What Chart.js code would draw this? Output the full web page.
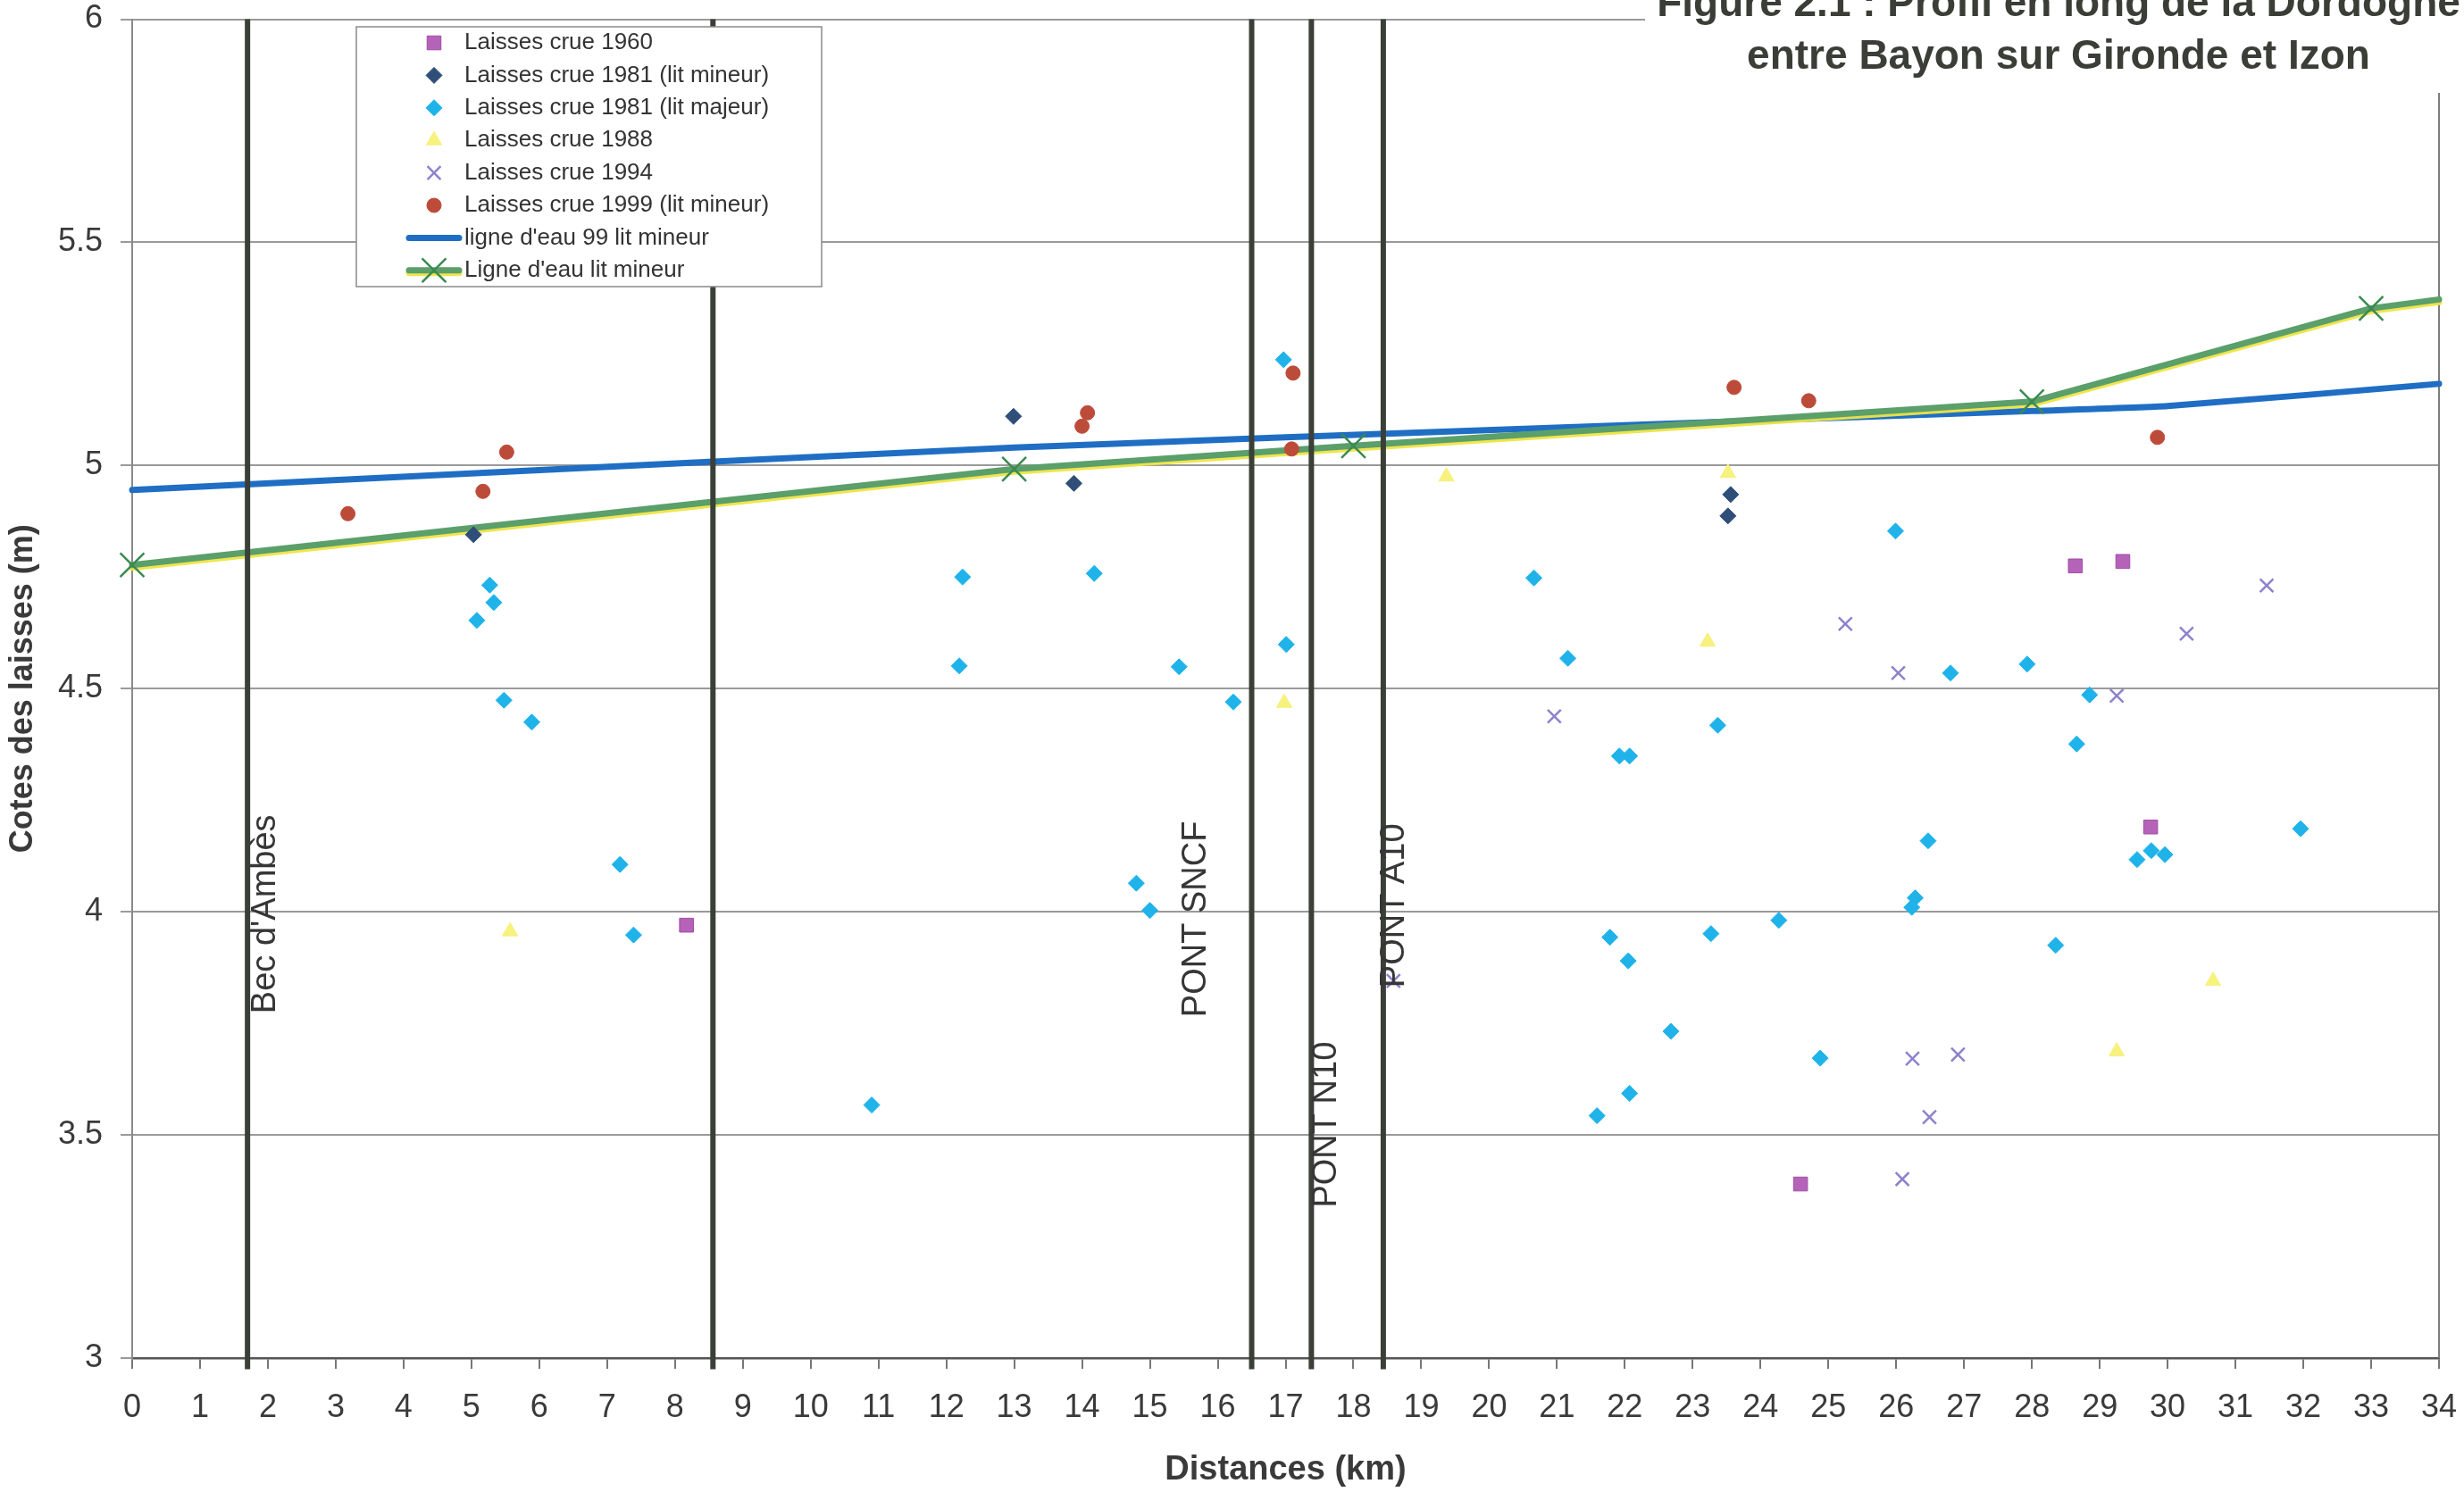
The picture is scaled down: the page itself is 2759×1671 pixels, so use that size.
<!DOCTYPE html>
<html>
<head>
<meta charset="utf-8">
<script src="https://cdn.jsdelivr.net/npm/chart.js@4.4.1/dist/chart.umd.min.js"></script>
<style>
html,body{margin:0;padding:0;background:#ffffff;overflow:hidden}
canvas{display:block}
</style>
</head>
<body>
<canvas id="c" width="2759" height="1671" style="width:2759px;height:1671px"></canvas>
<script>
// ---------------- DATA ----------------
const xTicksMin = 0, xTicksMax = 34;
const yTicksMin = 3, yTicksMax = 6, yStep = 0.5;

const km1960 = [8.17, 24.59, 28.64, 29.34, 29.75];
const z1960  = [3.97, 3.39, 4.775, 4.785, 4.19];

const km1981min = [5.03, 12.99, 13.88, 23.56, 23.52];
const z1981min  = [4.845, 5.11, 4.96, 4.935, 4.887];

const km1981maj = [5.08, 5.27, 5.33, 5.48, 5.89, 7.19, 7.39, 10.9, 12.19, 12.24, 14.18, 14.8, 15.0, 15.43, 16.23, 16.97, 17.01, 20.66, 21.16, 21.59, 21.78, 21.92, 22.05, 22.07, 22.07, 22.68, 23.27, 23.37, 24.27, 24.88, 25.99, 26.23, 26.28, 26.47, 26.8, 27.93, 28.35, 28.66, 28.85, 29.55, 29.76, 29.96, 31.96];
const z1981maj  = [4.653, 4.732, 4.693, 4.474, 4.425, 4.106, 3.948, 3.567, 4.551, 4.75, 4.758, 4.064, 4.003, 4.549, 4.47, 5.237, 4.599, 4.748, 4.568, 3.543, 3.943, 4.349, 3.89, 4.349, 3.593, 3.732, 3.951, 4.418, 3.981, 3.672, 4.853, 4.01, 4.031, 4.159, 4.535, 4.555, 3.925, 4.376, 4.486, 4.117, 4.137, 4.128, 4.186];

const km1988 = [5.57, 16.98, 19.37, 23.22, 23.52, 29.25, 30.67];
const z1988  = [3.956, 4.468, 4.975, 4.605, 4.983, 3.687, 3.845];

const km1994 = [18.59, 20.96, 25.25, 26.03, 26.09, 26.24, 26.49, 26.91, 29.25, 30.28, 31.46];
const z1994  = [3.845, 4.438, 4.645, 4.535, 3.401, 3.671, 3.54, 3.68, 4.484, 4.623, 4.731];

const km1999 = [3.18, 5.17, 5.52, 14.0, 14.08, 17.09, 17.11, 23.61, 24.71, 29.85];
const z1999  = [4.892, 4.942, 5.03, 5.088, 5.118, 5.037, 5.207, 5.175, 5.145, 5.063];

const kmLigne99 = [0, 8.5, 13, 17, 22, 28, 30, 34];
const zLigne99  = [4.945, 5.008, 5.04, 5.063, 5.09, 5.122, 5.133, 5.183];

const kmLigne = [0, 13, 18, 28, 33, 34];
const zLigne  = [4.777, 4.992, 5.044, 5.143, 5.352, 5.372];

const bridgeKm    = [1.70, 8.56, 16.50, 17.38, 18.44];
const bridgeNames = ["Bec d'Ambès", "", "PONT SNCF", "PONT N10", "PONT A10"];
const bridgeTextStart = [3.772, null, 3.764, 3.337, 3.83];

const seriesNames = [
  "Laisses crue 1960",
  "Laisses crue 1981 (lit mineur)",
  "Laisses crue 1981 (lit majeur)",
  "Laisses crue 1988",
  "Laisses crue 1994",
  "Laisses crue 1999 (lit mineur)",
  "ligne d'eau 99 lit mineur",
  "Ligne d'eau lit mineur"
];
const titleLines = ["Figure 2.1 : Profil en long de la Dordogne", "entre Bayon sur Gironde et Izon"];
const xTitle = "Distances (km)";
const yTitle = "Cotes des laisses (m)";

// ---------------- STYLE ----------------
const FONT = "'Liberation Sans', Arial, Helvetica, sans-serif";
const TXT = '#3a3a3a';
const pts = (xs, ys) => xs.map((x, i) => ({x: x, y: ys[i]}));

const styles = [
  {style:'rect',     r:11,  fill:'#b463b8', stroke:'#a24ca6', lw:1},
  {style:'rectRot',  r:9,   fill:'#2f4e78', stroke:'#2f4e78', lw:1},
  {style:'rectRot',  r:9,   fill:'#1fb3ea', stroke:'#1fb3ea', lw:1},
  {style:'triangle', r:10,  fill:'#f7f17e', stroke:'#f7f17e', lw:1},
  {style:'crossRot', r:10.5,fill:'#8f82cc', stroke:'#8f82cc', lw:2.5},
  {style:'circle',   r:8,   fill:'#bd4b3a', stroke:'#bd4b3a', lw:1}
];
const blueColor = '#1f6ec4';
const greenColor = '#5b9f6b';
const greenMarker = '#3b8a4f';
const bridgeColor = '#3a3f38';

const seriesX = [km1960, km1981min, km1981maj, km1988, km1994, km1999];
const seriesY = [z1960, z1981min, z1981maj, z1988, z1994, z1999];

const datasets = [];
// bridge vertical lines (on top)
bridgeKm.forEach((k, i) => {
  datasets.push({
    label: 'bridge' + i, isBridge: true,
    data: [{x: k, y: 2.975}, {x: k, y: 6}],
    showLine: true, borderColor: bridgeColor, borderWidth: 6,
    pointRadius: 0, clip: false, order: 0, borderCapStyle: 'butt'
  });
});
seriesX.forEach((xs, i) => {
  const s = styles[i];
  datasets.push({
    label: seriesNames[i],
    data: pts(xs, seriesY[i]),
    showLine: false,
    pointStyle: s.style, pointRadius: s.r,
    pointBackgroundColor: s.fill, pointBorderColor: s.stroke, pointBorderWidth: s.lw,
    borderColor: s.stroke, backgroundColor: s.fill,
    order: 2
  });
});
datasets.push({
  label: seriesNames[6],
  data: pts(kmLigne99, zLigne99),
  showLine: true, borderColor: blueColor, borderWidth: 7, pointRadius: 0,
  tension: 0.15, borderJoinStyle: 'round', borderCapStyle: 'round', order: 5, clip: false
});
// green line (with yellow lower edge)
datasets.push({
  label: seriesNames[7], yellowEdge: true,
  data: pts(kmLigne, zLigne),
  showLine: true, borderColor: greenColor, borderWidth: 7, pointRadius: 0,
  tension: 0, borderJoinStyle: 'round', borderCapStyle: 'round', order: 4, clip: false
});
// markers of the green line
datasets.push({
  label: seriesNames[7] + ' markers',
  data: pts(kmLigne, zLigne),
  showLine: false,
  pointStyle: 'crossRot', pointRadius: kmLigne.map((v, i) => i < kmLigne.length - 1 ? 19 : 0),
  pointBorderColor: greenMarker, pointBorderWidth: 2.5, pointBackgroundColor: greenMarker,
  order: 3, clip: false
});

function drawMarker(ctx, style, x, y, r, fill, stroke, lw) {
  ctx.save();
  ctx.beginPath();
  ctx.fillStyle = fill; ctx.strokeStyle = stroke; ctx.lineWidth = lw;
  if (style === 'rect') {
    const s = Math.SQRT1_2 * r;
    ctx.rect(x - s, y - s, 2 * s, 2 * s); ctx.fill(); ctx.stroke();
  } else if (style === 'rectRot') {
    ctx.moveTo(x, y - r); ctx.lineTo(x + r, y); ctx.lineTo(x, y + r); ctx.lineTo(x - r, y);
    ctx.closePath(); ctx.fill(); ctx.stroke();
  } else if (style === 'triangle') {
    ctx.moveTo(x, y - r);
    ctx.lineTo(x + Math.sin(2 * Math.PI / 3) * r, y + 0.5 * r);
    ctx.lineTo(x - Math.sin(2 * Math.PI / 3) * r, y + 0.5 * r);
    ctx.closePath(); ctx.fill(); ctx.stroke();
  } else if (style === 'crossRot') {
    const d = Math.SQRT1_2 * r;
    ctx.moveTo(x - d, y - d); ctx.lineTo(x + d, y + d);
    ctx.moveTo(x - d, y + d); ctx.lineTo(x + d, y - d);
    ctx.stroke();
  } else if (style === 'circle') {
    ctx.arc(x, y, r, 0, Math.PI * 2); ctx.fill(); ctx.stroke();
  }
  ctx.restore();
}

const bridgeLabelDx = [20, 0, -62, 17, 13];

const decor = {
  id: 'decor',
  beforeDatasetsDraw(chart) {
    const {ctx, chartArea} = chart;
    ctx.save();
    ctx.strokeStyle = '#7d7d7d'; ctx.lineWidth = 2;
    ctx.beginPath(); ctx.moveTo(chartArea.right, chartArea.top); ctx.lineTo(chartArea.right, chartArea.bottom); ctx.stroke();
    ctx.restore();
  },
  beforeDatasetDraw(chart, args) {
    const ds = chart.data.datasets[args.index];
    if (ds.yellowEdge) {
      const ctx = chart.ctx;
      ctx.save();
      ctx.shadowColor = 'rgba(238,228,70,0.95)';
      ctx.shadowOffsetX = 0; ctx.shadowOffsetY = 3; ctx.shadowBlur = 0;
    }
  },
  afterDatasetDraw(chart, args) {
    const ds = chart.data.datasets[args.index];
    if (ds.yellowEdge) chart.ctx.restore();
  },
  afterDatasetsDraw(chart) {
    const {ctx, scales} = chart;
    ctx.save();
    ctx.font = '38px ' + FONT;
    ctx.fillStyle = '#363636';
    ctx.textAlign = 'left'; ctx.textBaseline = 'middle';
    bridgeKm.forEach((k, i) => {
      if (!bridgeNames[i]) return;
      const x = scales.x.getPixelForValue(k) + bridgeLabelDx[i];
      const y = scales.y.getPixelForValue(bridgeTextStart[i]);
      ctx.save(); ctx.translate(x, y); ctx.rotate(-Math.PI / 2);
      ctx.fillText(bridgeNames[i], 0, 0);
      ctx.restore();
    });
    ctx.restore();
  },
  afterDraw(chart) {
    const ctx = chart.ctx;
    // legend
    const lx = 399, ly = 30, lw = 521, lh = 291;
    ctx.save();
    ctx.fillStyle = '#ffffff'; ctx.fillRect(lx, ly, lw, lh);
    ctx.strokeStyle = '#8a8a8a'; ctx.lineWidth = 1.5; ctx.strokeRect(lx, ly, lw, lh);
    ctx.font = '26px ' + FONT; ctx.fillStyle = '#333333';
    ctx.textAlign = 'left'; ctx.textBaseline = 'middle';
    for (let i = 0; i < seriesNames.length; i++) {
      const y = 48 + i * 36.4;
      if (i < 6) {
        const s = styles[i];
        drawMarker(ctx, s.style, 486, y, s.r, s.fill, s.stroke, s.lw);
      } else {
        ctx.save();
        ctx.strokeStyle = i === 6 ? blueColor : greenColor;
        ctx.lineWidth = 7; ctx.lineCap = 'round';
        if (i === 7) { ctx.shadowColor = 'rgba(238,228,70,0.95)'; ctx.shadowOffsetY = 3; }
        ctx.beginPath(); ctx.moveTo(458, y); ctx.lineTo(514, y); ctx.stroke();
        ctx.restore();
        if (i === 7) drawMarker(ctx, 'crossRot', 486, y, 19, greenMarker, greenMarker, 2.5);
      }
      ctx.fillStyle = '#333333';
      ctx.fillText(seriesNames[i], 520, y);
    }
    // title box
    ctx.fillStyle = '#ffffff'; ctx.fillRect(1842, 0, 2759 - 1842, 104);
    ctx.font = 'bold 46px ' + FONT; ctx.fillStyle = '#3b3d37';
    ctx.textAlign = 'center'; ctx.textBaseline = 'alphabetic';
    ctx.fillText(titleLines[0], 2305, 18);
    ctx.fillText(titleLines[1], 2305, 77);
    ctx.restore();
  }
};

new Chart(document.getElementById('c'), {
  type: 'scatter',
  data: {datasets: datasets},
  plugins: [decor],
  options: {
    responsive: false, animation: false, devicePixelRatio: 1, events: [],
    layout: {padding: {top: 17, right: 28, left: 0, bottom: 0}},
    plugins: {legend: {display: false}, tooltip: {enabled: false}, title: {display: false}},
    scales: {
      x: {
        type: 'linear', min: xTicksMin, max: xTicksMax,
        ticks: {stepSize: 1, autoSkip: false, maxRotation: 0, color: TXT, padding: 22,
                font: {family: FONT, size: 36}},
        grid: {drawOnChartArea: false, drawTicks: true, tickLength: 12, color: '#777777', lineWidth: 2},
        border: {display: true, color: '#555555', width: 2.5},
        title: {display: true, text: xTitle, color: TXT, padding: {top: 0, bottom: 2},
                font: {family: FONT, size: 38, weight: 'bold'}},
        afterFit(s) { s.height = 150; s.paddingLeft = 0; s.paddingRight = 0; }
      },
      y: {
        type: 'linear', min: yTicksMin, max: yTicksMax,
        ticks: {stepSize: yStep, color: TXT, padding: 20, font: {family: FONT, size: 36},
                callback: (v) => String(Math.round(v * 10) / 10)},
        grid: {color: '#9a9a9a', lineWidth: 2, tickLength: 13},
        border: {display: true, color: '#8a8a8a', width: 2},
        title: {display: true, text: yTitle, color: TXT, padding: {top: 4, bottom: 0},
                font: {family: FONT, size: 36, weight: 'bold'}},
        afterFit(s) { s.width = 148; s.paddingTop = 0; s.paddingBottom = 0; }
      }
    }
  }
});
</script>
</body>
</html>
